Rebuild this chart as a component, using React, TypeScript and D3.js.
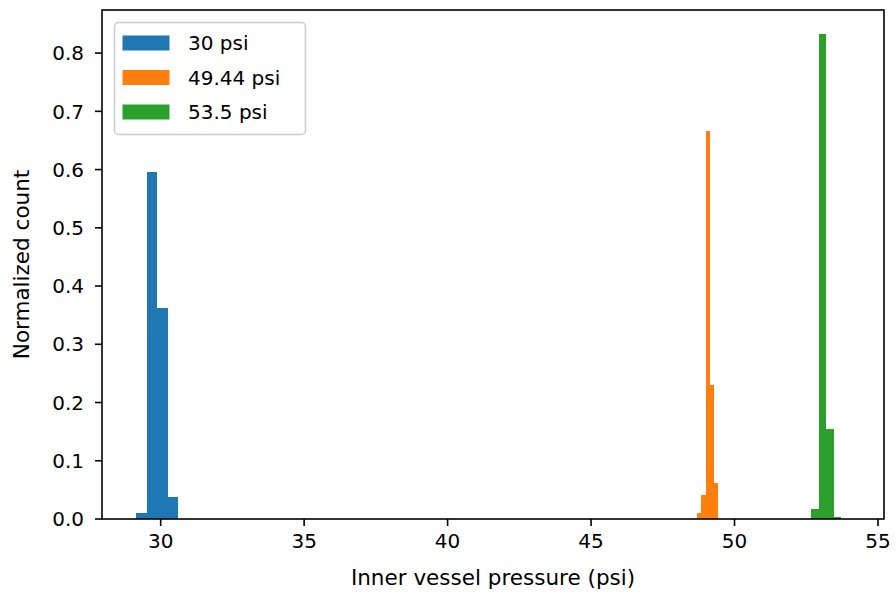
import React from "react";
import * as d3 from "d3";

// Histogram data (bin edges in psi, normalized counts)
const series30Edges = [29.15, 29.52, 29.88, 30.25, 30.62];
const series30Counts = [0.010, 0.595, 0.363, 0.037];
const series49Edges = [48.69, 48.84, 48.99, 49.13, 49.28, 49.43];
const series49Counts = [0.010, 0.041, 0.667, 0.230, 0.061];
const series53Edges = [52.68, 52.94, 53.19, 53.45, 53.70];
const series53Counts = [0.018, 0.832, 0.154, 0.003];

const seriesLabels = ["30 psi", "49.44 psi", "53.5 psi"];
const seriesColors = ["#1f77b4", "#ff7f0e", "#2ca02c"];
const xTicks = [30, 35, 40, 45, 50, 55];
const yTicks = [0, 0.1, 0.2, 0.3, 0.4, 0.5, 0.6, 0.7, 0.8];
const xLimits = [27.955, 55.21];
const yLimits = [0, 0.874];

const W = 896;
const H = 592;
const left = 102;
const right = 884;
const top = 10;
const bottom = 519;
const FONT = "DejaVu Sans, sans-serif";
const FS = 20;
const LFS = 21.5;

export default function App() {
  const x = d3.scaleLinear().domain(xLimits).range([left, right]);
  const y = d3.scaleLinear().domain(yLimits).range([bottom, top]);

  const all = [
    { edges: series30Edges, counts: series30Counts },
    { edges: series49Edges, counts: series49Counts },
    { edges: series53Edges, counts: series53Counts },
  ];

  const legendRows = [43, 77.5, 112];

  return (
    <svg
      width={W}
      height={H}
      style={{ position: "absolute", left: 0, top: 0, background: "#fff" }}
      fontFamily={FONT}
    >
      <rect x={0} y={0} width={W} height={H} fill="#fff" />
      {all.map((s, si) =>
        s.counts.map((c, i) => (
          <rect
            key={`b${si}-${i}`}
            x={x(s.edges[i])}
            y={y(c)}
            width={x(s.edges[i + 1]) - x(s.edges[i])}
            height={y(0) - y(c)}
            fill={seriesColors[si]}
            shapeRendering="crispEdges"
          />
        ))
      )}
      {/* spines */}
      <rect
        x={left}
        y={top}
        width={right - left}
        height={bottom - top}
        fill="none"
        stroke="#000"
        strokeWidth={1.6}
      />
      {/* x ticks */}
      {xTicks.map((t) => (
        <g key={`xt${t}`}>
          <line x1={x(t)} x2={x(t)} y1={bottom} y2={bottom + 7} stroke="#000" strokeWidth={1.6} />
          <text x={x(t)} y={bottom + 29} textAnchor="middle" fontSize={FS} fill="#000">
            {t}
          </text>
        </g>
      ))}
      {/* y ticks */}
      {yTicks.map((t) => (
        <g key={`yt${t}`}>
          <line x1={left - 7} x2={left} y1={y(t)} y2={y(t)} stroke="#000" strokeWidth={1.6} />
          <text
            x={left - 18}
            y={y(t)}
            dy="0.36em"
            textAnchor="end"
            fontSize={FS}
            fill="#000"
          >
            {t.toFixed(1)}
          </text>
        </g>
      ))}
      <text x={(left + right) / 2} y={585} textAnchor="middle" fontSize={LFS} fill="#000">
        Inner vessel pressure (psi)
      </text>
      <text
        transform={`translate(29, ${(top + bottom) / 2}) rotate(-90)`}
        textAnchor="middle"
        fontSize={LFS}
        fill="#000"
      >
        Normalized count
      </text>
      {/* legend */}
      <rect
        x={114.5}
        y={22.5}
        width={191}
        height={112}
        rx={4}
        fill="#fff"
        fillOpacity={0.8}
        stroke="#cccccc"
        strokeWidth={1.5}
      />
      {seriesLabels.map((lab, i) => (
        <g key={`lg${i}`}>
          <rect x={122.5} y={legendRows[i] - 7.5} width={47} height={15} fill={seriesColors[i]} />
          <text x={188} y={legendRows[i]} dy="0.36em" fontSize={FS} fill="#000">
            {lab}
          </text>
        </g>
      ))}
    </svg>
  );
}
